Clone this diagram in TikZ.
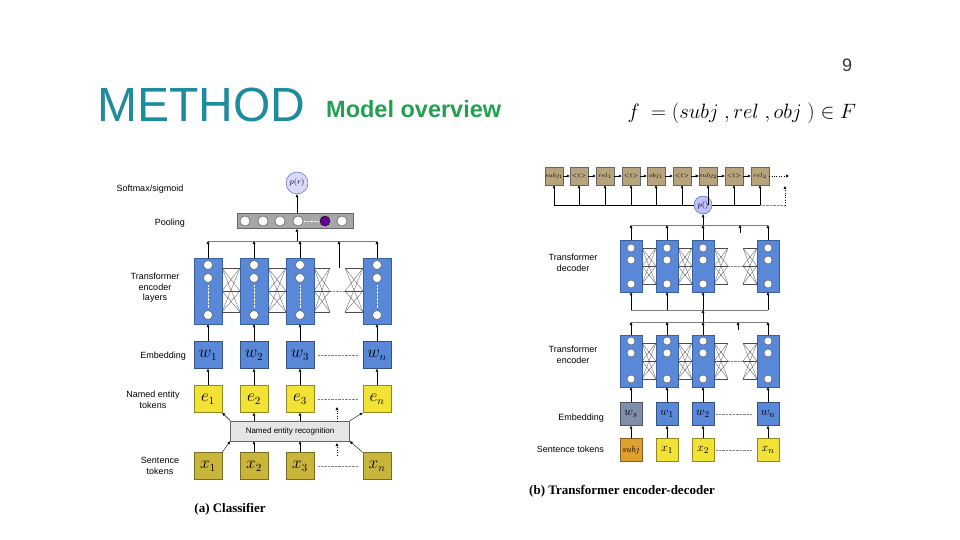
\documentclass[tikz,border=0pt]{standalone}
\usepackage{fontspec}
\setmainfont{Liberation Sans}
\newfontfamily\serif{Liberation Serif}
\usetikzlibrary{arrows.meta}
\definecolor{blk}{HTML}{5A88D8}
\definecolor{blkb}{HTML}{3A5F9F}
\definecolor{yel}{HTML}{F2E236}
\definecolor{oli}{HTML}{C9B53A}
\definecolor{tan}{HTML}{B8A47C}
\definecolor{teal}{HTML}{1E8C9C}
\definecolor{grn}{HTML}{22A050}
\definecolor{wsg}{HTML}{7F8FAA}
\definecolor{org}{HTML}{E0A030}
\begin{document}
\begin{tikzpicture}[x=1pt,y=-1pt,
 lbl/.style={font=\fontsize{9}{10.5}\selectfont,align=center,inner sep=0},
 box/.style={draw=#1!60!black,fill=#1,minimum width=28pt,minimum height=27pt,inner sep=0,font=\fontsize{16}{16}\selectfont},
 sbox/.style={draw=#1!60!black,fill=#1,minimum width=22pt,minimum height=23pt,inner sep=0,font=\fontsize{13}{13}\selectfont},
 col/.style={draw=blkb,fill=blk,minimum width=28pt,minimum height=66pt,inner sep=0},
 scol/.style={draw=blkb,fill=blk,minimum width=22pt,minimum height=52pt,inner sep=0},
 cir/.style={circle,draw=gray!60!black,fill=white,minimum size=#1,inner sep=0},
 ar/.style={-{Latex[length=3pt,width=3pt]},thin},
 xl/.style={black!70,line width=0.3pt},
 dt/.style={densely dotted,gray}]
\useasboundingbox (0,0) rectangle (960,540);
% title
\node[anchor=base west,inner sep=0,text=teal,font=\fontsize{48}{48}\selectfont] (title) at (97,122) {METHOD};
\node[anchor=base west,inner sep=0,text=grn,font=\bfseries\fontsize{23.5}{24}\selectfont] (sub) at (326,118) {Model overview};
\node[font=\fontsize{18}{18}\selectfont,text=black!80] (pg) at (847,65) {9};
\node[anchor=west,font=\fontsize{20.5}{21}\selectfont] (form) at (624,113) {$f\ =(subj\ ,rel\ ,obj\ )\in F$};

% ===== LEFT (a) =====
\foreach \i/\x/\s in {1/208/1,2/254/2,3/300/3,4/377/n}{
 \node[col] (lc\i) at (\x,291) {};
 \node[cir=9pt] at (\x,265) {}; \node[cir=9pt] at (\x,278) {}; \node[cir=9pt] at (\x,315) {};
 \draw[dt,white] (\x,285)--(\x,308);
 \node[box=blk] (lw\i) at (\x,355) {$w_{\s}$};
 \node[box=yel] (le\i) at (\x,399) {$e_{\s}$};
 \node[box=oli] (lx\i) at (\x,466) {$x_{\s}$};
 \draw[ar] (lw\i.north)--(lc\i.south);
 \draw[ar] (le\i.north)--(lw\i.south);
}
\foreach \a/\b in {222/240,268/286,314/330,345/363}{
 \foreach \ya in {268,291,312}{\foreach \yb in {268,291,312}{\draw[xl] (\a,\ya)--(\b,\yb);}}}
\draw[dt] (330,291)--(345,291);
\foreach \y in {355,399,466}{\draw[dt] (318,\y)--(358,\y);}
% pooling
\node[draw=black!60,fill=gray!70,minimum width=116pt,minimum height=15pt,inner sep=0] (pool) at (295,221) {};
\foreach \x in {245,263,280,298,342}{\node[cir=10pt] at (\x,221) {};}
\node[circle,draw=black,fill=violet!80!blue,minimum size=10pt,inner sep=0] (pur) at (325,221) {};
\draw[dt,white] (304,221)--(319,221);
\node[circle,draw=blkb,fill=blue!15,minimum size=22pt,inner sep=0,font=\fontsize{8}{8}\selectfont] (pr) at (297,183) {$p(r)$};
\draw[ar] (pool.north -| pr) -- (pr.south);
\coordinate (lL) at (208,241); \coordinate (lR) at (377,241);
\draw[gray] (lL)--(lR);
\foreach \i in {1,...,4}{\draw[ar] (lc\i.north)--(lc\i.north |- lL);}
\coordinate (ld) at (339,268); \draw[ar] (ld)--(339,241);
\draw[ar] (297,241)--(pool.south -| pr);
% NER
\node[draw=black!60,fill=gray!20,minimum width=119pt,minimum height=20pt,inner sep=0,font=\fontsize{8}{8}\selectfont] (ner) at (290,431) {Named entity recognition};
\draw[ar] (ner.north west)--(le1.south east);
\draw[ar] (ner.north east)--(le4.south west);
\draw[ar] (ner.north -| le2)--(le2.south);
\draw[ar] (ner.north -| le3)--(le3.south);
\draw[ar,dotted] (337,421)--(337,407);
\draw[ar] (lx1.north east)--(ner.south west);
\draw[ar] (lx4.north west)--(ner.south east);
\draw[ar] (lx2.north)--(ner.south -| lx2);
\draw[ar] (lx3.north)--(ner.south -| lx3);
\draw[ar,dotted] (337,455)--(337,443);
% labels
\node[lbl] (l1) at (150,189) {Softmax/sigmoid};
\node[lbl,anchor=east] (l2) at (185,223) {Pooling};
\node[lbl] (l3) at (155,288) {Transformer\\encoder\\layers};
\node[lbl,anchor=east] (l4) at (186,356) {Embedding};
\node[lbl] (l5) at (153,400) {Named entity\\tokens};
\node[lbl] (l6) at (160,466) {Sentence\\tokens};
\node[font=\serif\bfseries\fontsize{13}{13}\selectfont] (ca) at (230,509) {(a) Classifier};

% ===== RIGHT (b) =====
\foreach \i/\x in {1/631,2/667,3/703,4/768}{
 \node[scol] (dc\i) at (\x,266) {};
 \node[cir=8pt] at (\x,248) {}; \node[cir=8pt] at (\x,260) {}; \node[cir=8pt] at (\x,284) {};
 \node[scol] (ec\i) at (\x,361) {};
 \node[cir=8pt] at (\x,341) {}; \node[cir=8pt] at (\x,353) {}; \node[cir=8pt] at (\x,379) {};
}
\foreach \y in {266,361}{
 \foreach \a/\b in {642/656,678/692,714/728,743/757}{
  \foreach \ya in {-18,0,18}{\foreach \yb in {-18,0,18}{\draw[xl] (\a,\y+\ya)--(\b,\y+\yb);}}}
 \draw[dt] (728,\y)--(743,\y);}
\node[sbox=wsg] (rw1) at (631,414) {$w_s$};
\node[sbox=org] (rx1) at (631,450) {\fontsize{9}{9}\selectfont$subj$};
\foreach \i/\x/\s in {2/667/1,3/703/2,4/768/n}{
 \node[sbox=blk] (rw\i) at (\x,414) {$w_{\s}$};
 \node[sbox=yel] (rx\i) at (\x,450) {$x_{\s}$};}
\foreach \i in {1,...,4}{
 \draw[ar] (rx\i.north)--(rw\i.south);
 \draw[ar] (rw\i.north)--(ec\i.south);}
\foreach \y in {414,450}{\draw[dt] (716,\y)--(752,\y);}
% enc -> dec
\draw[gray] (631,322)--(768,322);
\foreach \i in {1,...,4}{\draw[ar] (ec\i.north)--(ec\i.north |- 0,322);}
\draw[ar] (738,330)--(738,322);
\draw[gray] (631,310)--(768,310);
\draw[ar] (703,322)--(703,310);
\foreach \i in {1,...,4}{\draw[ar] (dc\i.south |- 0,310)--(dc\i.south);}
% dec -> p
\node[circle,draw=blkb,fill=blue!25,minimum size=18pt,inner sep=0,font=\fontsize{8}{8}\selectfont] (pp) at (703,205) {$p()$};
\draw[gray] (631,225)--(768,225);
\foreach \i in {1,...,4}{\draw[ar] (dc\i.north)--(dc\i.north |- 0,225);}
\draw[ar] (740,233)--(740,225);
\draw[ar] (703,225)--(pp.south);
% tokens
\foreach \i/\x/\t in {1/554/subj_1,2/579/{<}t{>},3/605/rel_1,4/631/{<}t{>},5/656/obj_1,6/682/{<}t{>},7/708/subj_2,8/734/{<}t{>},9/760/rel_2}{
 \node[draw=black!60,fill=tan,minimum width=18pt,minimum height=18pt,inner sep=0,font=\fontsize{6}{6}\selectfont] (t\i) at (\x,176) {$\t$};}
\foreach \a/\b in {1/2,2/3,3/4,4/5,5/6,6/7,7/8,8/9}{\draw[ar] (t\a)--(t\b);}
\coordinate (tend) at (789,176);
\draw[ar,dotted,black] (t9)--(tend);
\draw[black] (554,205)--(pp.west); \draw[black] (pp.east)--(760,205);
\draw[dt] (760,205)--(785,205);
\foreach \i in {1,...,9}{\draw[ar] (t\i.south |- 0,205)--(t\i.south);}
\draw[ar,dotted] (785,205)--(785,186);
% labels
\node[lbl] (r1) at (573,263) {Transformer\\decoder};
\node[lbl] (r2) at (573,355) {Transformer\\encoder};
\node[lbl,anchor=east] (r3) at (604,418) {Embedding};
\node[lbl,anchor=east] (r4) at (604,449) {Sentence tokens};
\node[font=\serif\bfseries\fontsize{13}{13}\selectfont] (cb) at (622,491) {(b) Transformer encoder-decoder};
\end{tikzpicture}
\end{document}
